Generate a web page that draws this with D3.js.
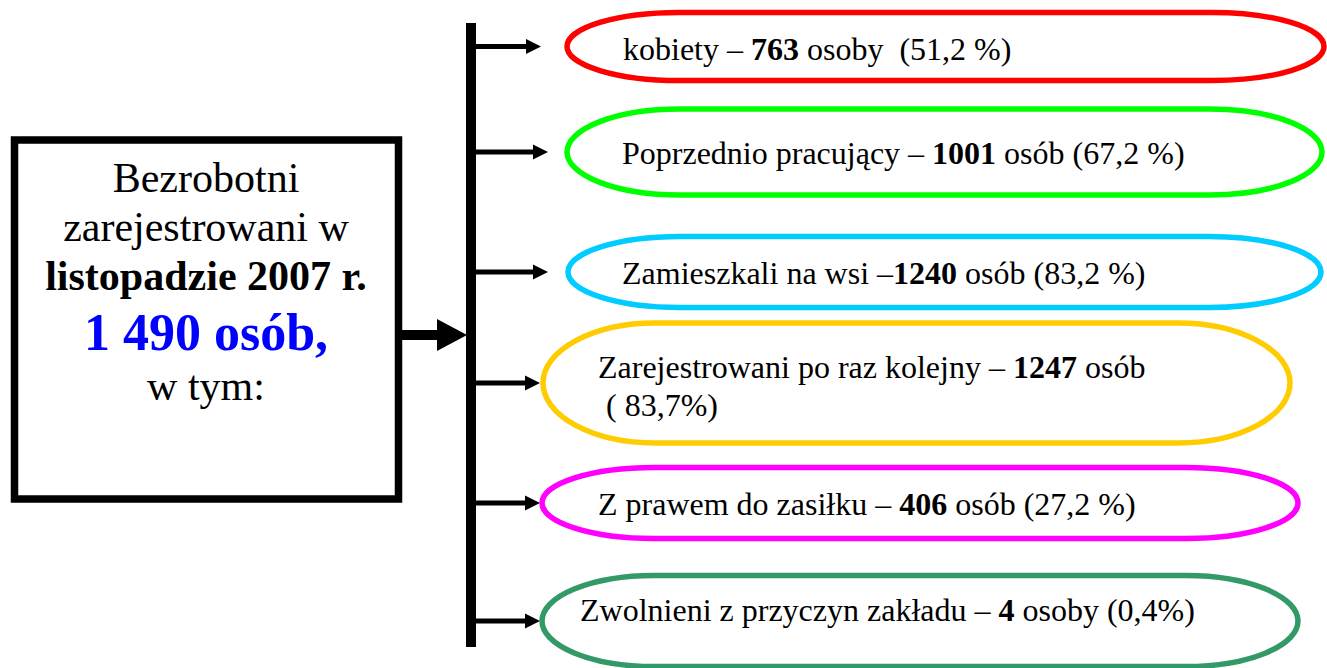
<!DOCTYPE html>
<html>
<head>
<meta charset="utf-8">
<script src="https://cdn.jsdelivr.net/npm/d3@7"></script>
<style>
  html, body { margin: 0; padding: 0; background: #fff; }
  text { font-family: "Liberation Serif", "Times New Roman", serif; white-space: pre; }
</style>
</head>
<body>
<div id="container"></div>
<script>
// data
const total = "1 490";
const headLines = ["Bezrobotni", "zarejestrowani w", "listopadzie 2007 r."];
const categories = ["kobiety", "Poprzednio pracujący", "Zamieszkali na wsi",
  "Zarejestrowani po raz kolejny", "Z prawem do zasiłku", "Zwolnieni z przyczyn zakładu"];
const counts = [763, 1001, 1240, 1247, 406, 4];
const units = ["osoby", "osób", "osób", "osób", "osób", "osoby"];
const shares = ["51,2 %", "67,2 %", "83,2 %", "83,7%", "27,2 %", "0,4%"];
const colors = ["#ff0000", "#00ff00", "#00ccff", "#ffcc00", "#ff00ff", "#339966"];

// layout of the rows (centres, heights, left/right edges of the pills)
const rowY = [46.5, 152, 272, 383, 503, 621];
const rowH = [68, 86, 71, 120, 71, 91];
const pillX0 = [567, 567, 568, 543, 542, 542];
const pillX1 = [1324, 1322, 1321, 1290, 1298, 1298];
const textX = [623, 622, 622, 598, 598, 580];
const textDy = [13, 12, 12, -5, 12, 0];
const arrowTip = [541, 548, 548, 540, 540, 540];

let svg = d3.select("#container")
  .append("svg")
  .attr("width", 1327)
  .attr("height", 668);

let y = d3.scaleOrdinal().domain(categories).range(rowY);

//left box
svg.append("rect")
  .attr("x", 14.5).attr("y", 140)
  .attr("width", 384).attr("height", 359)
  .attr("fill", "none")
  .attr("stroke", "#000")
  .attr("stroke-width", 7.5);

let boxText = svg.append("text")
  .attr("text-anchor", "middle")
  .attr("fill", "#000");
boxText.append("tspan").attr("x", 206).attr("y", 192).attr("font-size", 42).text(headLines[0]);
boxText.append("tspan").attr("x", 206).attr("y", 241).attr("font-size", 42).text(headLines[1]);
boxText.append("tspan").attr("x", 206).attr("y", 290).attr("font-size", 42).attr("font-weight", "bold").text(headLines[2]);
boxText.append("tspan").attr("x", 206).attr("y", 350).attr("font-size", 52).attr("font-weight", "bold")
  .attr("fill", "#0000ff").text(total + " osób,");
boxText.append("tspan").attr("x", 206).attr("y", 400).attr("font-size", 42).text("w tym:");

//vertical bar
svg.append("line")
  .attr("x1", 471).attr("x2", 471)
  .attr("y1", 23).attr("y2", 647)
  .attr("stroke", "#000")
  .attr("stroke-width", 10);

//big arrow from the box
svg.append("line")
  .attr("x1", 402).attr("x2", 440)
  .attr("y1", 335).attr("y2", 335)
  .attr("stroke", "#000")
  .attr("stroke-width", 10);
svg.append("path")
  .attr("d", "M437,319L467,335L437,351Z")
  .attr("fill", "#000");

//small arrows
let rows = svg.selectAll("g.row")
  .data(categories)
  .enter()
  .append("g")
  .attr("class", "row");

rows.append("line")
  .attr("x1", 476)
  .attr("x2", (d, i) => arrowTip[i] - 13)
  .attr("y1", d => y(d))
  .attr("y2", d => y(d))
  .attr("stroke", "#000")
  .attr("stroke-width", 5);

rows.append("path")
  .attr("d", (d, i) => {
    let p = d3.path();
    p.moveTo(arrowTip[i] - 15, y(d) - 7.5);
    p.lineTo(arrowTip[i], y(d));
    p.lineTo(arrowTip[i] - 15, y(d) + 7.5);
    p.closePath();
    return p.toString();
  })
  .attr("fill", "#000");

//pills
rows.append("rect")
  .attr("x", (d, i) => pillX0[i])
  .attr("y", (d, i) => y(d) - rowH[i] / 2)
  .attr("width", (d, i) => pillX1[i] - pillX0[i])
  .attr("height", (d, i) => rowH[i])
  .attr("rx", 112)
  .attr("ry", (d, i) => rowH[i] / 2)
  .attr("fill", "none")
  .attr("stroke", (d, i) => colors[i])
  .attr("stroke-width", 5.5);

//labels
const dashes = [" – ", " – ", " –", " – ", " – ", " – "];
const shareGap = ["  ", " ", " ", "", " ", " "];
const wrapShare = [false, false, false, true, false, false];

rows.each(function (d, i) {
  let g = d3.select(this);
  let single = !wrapShare[i];
  let baseY = y(d) + textDy[i];
  let t = g.append("text")
    .attr("x", textX[i])
    .attr("y", baseY)
    .attr("font-size", 32)
    .attr("fill", "#000");
  t.append("tspan").text(d + dashes[i]);
  t.append("tspan").attr("font-weight", "bold").text(counts[i]);
  t.append("tspan").text(" " + units[i] + (single ? shareGap[i] + "(" + shares[i] + ")" : ""));
  if (!single) {
    g.append("text")
      .attr("x", textX[i])
      .attr("y", baseY + 38)
      .attr("font-size", 32)
      .attr("fill", "#000")
      .text(" ( " + shares[i] + ")");
  }
});
</script>
</body>
</html>
